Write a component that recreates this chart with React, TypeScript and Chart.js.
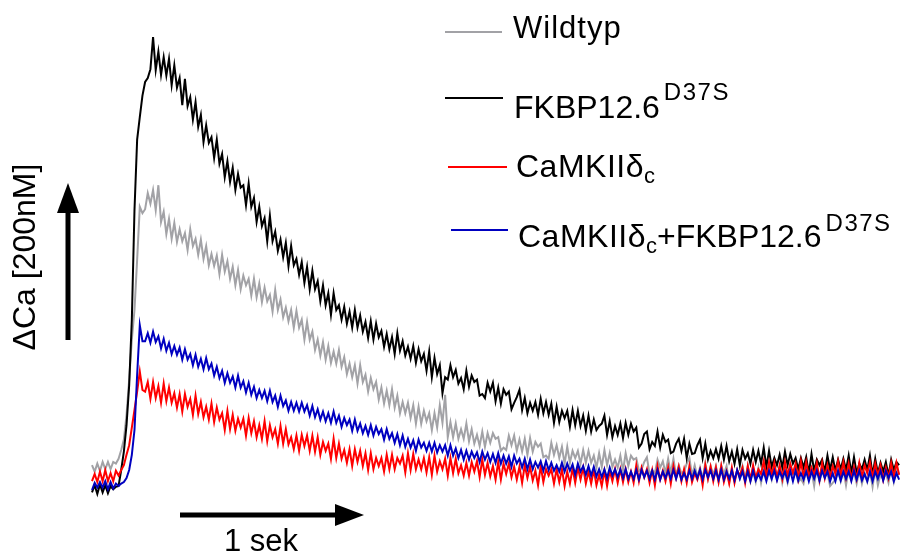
import { useEffect, useRef } from "react";
import { Chart, registerables } from "chart.js";

Chart.register(...registerables);

// Sampling interval of the recordings (seconds)
const TIME_STEP_S = 0.015;

// ΔCa traces in nM (relative to diastolic baseline), one value per sample
const WILDTYP = [
  31, 23, 33, 24, 35, 26, 35, 26, 35, 33, 39, 50, 63, 94, 138, 188, 225, 288, 354, 346,
  351, 371, 358, 375, 350, 381, 335, 348, 320, 339, 314, 334, 310, 326, 311, 321, 300, 326, 305, 314,
  294, 313, 289, 305, 281, 295, 280, 293, 270, 294, 273, 286, 264, 279, 256, 275, 251, 268, 256, 264,
  243, 264, 241, 258, 235, 253, 236, 244, 223, 250, 225, 238, 216, 228, 211, 225, 203, 224, 203, 213,
  188, 210, 188, 198, 175, 188, 168, 185, 163, 180, 159, 173, 158, 175, 154, 166, 145, 158, 141, 156,
  133, 156, 135, 144, 123, 140, 126, 135, 113, 128, 108, 124, 106, 126, 103, 118, 96, 110, 96, 109,
  90, 106, 83, 104, 83, 99, 86, 96, 75, 96, 78, 106, 84, 119, 66, 85, 66, 83, 64, 76,
  64, 83, 61, 76, 58, 69, 55, 73, 54, 71, 59, 71, 64, 66, 49, 53, 50, 68, 56, 68,
  49, 63, 48, 64, 44, 65, 48, 60, 54, 58, 41, 43, 39, 59, 44, 56, 40, 54, 33, 54,
  34, 49, 40, 49, 33, 50, 34, 49, 34, 43, 28, 46, 29, 50, 31, 46, 29, 38, 28, 43,
  24, 46, 30, 43, 38, 40, 24, 26, 35, 41, 20, 25, 21, 38, 28, 36, 21, 39, 21, 39,
  18, 31, 21, 23, 33, 40, 18, 31, 16, 28, 14, 34, 14, 30, 19, 30, 11, 31, 20, 30,
  10, 25, 11, 25, 15, 30, 14, 30, 11, 24, 10, 28, 9, 26, 16, 25, 13, 30, 14, 29,
  9, 24, 9, 24, 20, 25, 10, 14, 8, 26, 14, 24, 5, 30, 10, 25, 18, 21, 5, 9,
  13, 24, 11, 25, 6, 26, 14, 23, 8, 24, 8, 21, 10, 24, 4, 26, 6, 20, 13, 21,
  9, 28, 10, 25, 19,
];

const FKBP_D37S = [
  -3, 6, -5, 7, -3, 6, -4, 5, 1, 4, 5, 25, 48, 81, 131, 213, 350, 438, 466, 493,
  510, 515, 526, 566, 525, 548, 519, 541, 518, 539, 506, 531, 503, 515, 481, 514, 480, 491, 463, 485,
  454, 469, 435, 456, 434, 441, 415, 438, 408, 420, 391, 411, 385, 403, 375, 395, 378, 381, 356, 383,
  354, 365, 335, 354, 330, 340, 311, 343, 311, 323, 299, 313, 291, 309, 280, 305, 281, 289, 269, 285,
  259, 279, 251, 274, 251, 261, 236, 256, 231, 246, 219, 246, 225, 231, 213, 229, 208, 223, 203, 225,
  203, 218, 198, 210, 190, 211, 188, 208, 191, 199, 179, 195, 176, 191, 170, 196, 174, 186, 168, 179,
  164, 180, 159, 176, 161, 170, 149, 173, 141, 165, 145, 156, 121, 141, 138, 156, 141, 150, 133, 140,
  126, 149, 129, 143, 135, 138, 118, 120, 115, 134, 123, 134, 111, 128, 108, 126, 119, 123, 101, 109,
  116, 125, 100, 115, 96, 109, 99, 110, 94, 114, 96, 110, 94, 108, 84, 104, 85, 99, 90, 99,
  79, 100, 81, 99, 80, 93, 74, 93, 73, 88, 75, 80, 83, 93, 69, 86, 66, 80, 69, 83,
  65, 84, 69, 83, 73, 78, 53, 58, 70, 73, 51, 60, 55, 73, 53, 69, 60, 63, 46, 48,
  58, 64, 49, 64, 40, 58, 45, 46, 56, 63, 40, 58, 38, 49, 40, 51, 39, 55, 38, 55,
  36, 48, 33, 51, 31, 50, 39, 46, 33, 50, 35, 49, 33, 53, 29, 49, 29, 40, 31, 44,
  28, 48, 31, 45, 33, 40, 26, 40, 28, 41, 21, 45, 24, 38, 31, 38, 23, 43, 25, 41,
  24, 38, 26, 39, 25, 43, 21, 41, 21, 33, 26, 38, 25, 43, 19, 39, 21, 34, 23, 35,
  18, 38, 25, 35, 31,
];

const CAMKII = [
  11, 20, 10, 23, 11, 25, 11, 21, 11, 24, 18, 25, 31, 44, 56, 78, 100, 123, 148, 125,
  123, 135, 114, 135, 115, 130, 109, 133, 111, 128, 109, 121, 103, 120, 98, 120, 104, 114, 94, 118,
  95, 110, 91, 104, 88, 108, 85, 103, 88, 96, 75, 99, 76, 94, 74, 89, 78, 89, 68, 90,
  71, 86, 66, 81, 64, 86, 61, 81, 66, 76, 58, 80, 58, 76, 57, 66, 51, 68, 49, 69,
  55, 68, 49, 68, 48, 66, 44, 60, 49, 58, 39, 64, 40, 58, 39, 50, 34, 51, 30, 51,
  35, 49, 30, 46, 25, 46, 26, 40, 30, 40, 23, 44, 26, 44, 26, 40, 33, 43, 22, 46,
  25, 45, 26, 38, 26, 40, 22, 41, 19, 43, 23, 36, 26, 39, 18, 40, 21, 39, 21, 31,
  18, 34, 18, 35, 23, 36, 16, 38, 19, 34, 17, 30, 13, 35, 13, 33, 20, 33, 16, 29,
  13, 29, 9, 31, 15, 29, 12, 24, 6, 30, 10, 26, 18, 26, 8, 26, 10, 26, 5, 23,
  8, 27, 9, 28, 13, 28, 8, 23, 8, 25, 6, 19, 5, 24, 5, 24, 11, 26, 9, 26,
  10, 26, 10, 23, 9, 31, 11, 28, 16, 26, 9, 25, 6, 30, 13, 24, 11, 28, 8, 30,
  15, 29, 11, 26, 9, 30, 10, 21, 13, 25, 6, 31, 14, 29, 11, 28, 10, 30, 10, 23,
  8, 28, 9, 25, 18, 28, 9, 30, 13, 31, 15, 26, 20, 36, 16, 35, 18, 34, 15, 31,
  14, 35, 18, 33, 21, 33, 14, 36, 16, 35, 16, 28, 19, 34, 13, 34, 15, 31, 15, 30,
  20, 36, 18, 35, 16, 33, 14, 29, 14, 34, 16, 31, 21, 35, 15, 33, 18, 31, 13, 28,
  15, 34, 16, 34, 19,
];

const CAMKII_FKBP = [
  0, 9, 3, 10, 3, 11, 1, 10, 2, 8, 5, 8, 10, 15, 25, 44, 75, 144, 206, 186,
  186, 196, 184, 198, 185, 192, 177, 189, 174, 184, 170, 180, 169, 178, 163, 176, 163, 170, 156, 169,
  154, 164, 151, 165, 151, 158, 143, 154, 140, 149, 134, 146, 134, 142, 128, 143, 128, 136, 122, 134,
  119, 129, 115, 125, 115, 124, 111, 124, 110, 118, 104, 118, 105, 112, 99, 110, 99, 109, 98, 109,
  98, 106, 93, 105, 91, 101, 88, 98, 86, 96, 84, 98, 84, 93, 79, 90, 81, 88, 74, 88,
  74, 83, 71, 80, 69, 81, 68, 79, 70, 76, 63, 76, 64, 71, 59, 70, 56, 68, 54, 64,
  53, 62, 49, 63, 53, 59, 49, 59, 48, 59, 47, 56, 48, 56, 43, 56, 43, 52, 40, 50,
  38, 49, 38, 48, 40, 47, 35, 48, 38, 46, 35, 45, 34, 46, 33, 43, 33, 42, 29, 43,
  33, 39, 28, 39, 26, 38, 26, 35, 28, 36, 24, 36, 25, 34, 24, 31, 23, 34, 23, 33,
  24, 32, 19, 33, 23, 30, 19, 30, 18, 29, 17, 26, 16, 26, 15, 28, 18, 26, 16, 26,
  15, 26, 14, 23, 14, 25, 13, 25, 16, 24, 14, 24, 13, 25, 13, 23, 15, 24, 14, 25,
  14, 25, 13, 21, 13, 24, 14, 24, 15, 25, 13, 25, 16, 24, 14, 24, 13, 25, 13, 23,
  14, 24, 12, 25, 14, 23, 11, 23, 11, 24, 12, 20, 13, 23, 11, 24, 14, 24, 12, 23,
  15, 23, 11, 24, 11, 24, 12, 21, 13, 23, 11, 23, 14, 24, 12, 24, 15, 23, 11, 21,
  11, 24, 12, 23, 14, 23, 11, 24, 13, 24, 12, 20, 11, 23, 11, 23, 14, 24, 12, 24,
  15, 23, 11, 21, 13,
];

const SERIES_NAMES = ["Wildtyp", "FKBP12.6 D37S", "CaMKIIδc", "CaMKIIδc+FKBP12.6 D37S"];
const Y_LABEL = "ΔCa [200nM]";
const X_LABEL = "1 sek";

const COLORS = ["#a2a2a6", "#000000", "#ff0000", "#0000c0"];
const FONT = '"Liberation Sans", Arial, Helvetica, sans-serif';

type Part = { t: string; size: number; dy: number; sp?: number; gap?: number };

function drawRich(ctx: CanvasRenderingContext2D, x: number, y: number, parts: Part[]) {
  let cx = x;
  for (const p of parts) {
    ctx.font = `${p.size}px ${FONT}`;
    (ctx as any).letterSpacing = `${p.sp || 0}px`;
    cx += p.gap || 0;
    ctx.fillText(p.t, cx, y + p.dy);
    cx += ctx.measureText(p.t).width;
  }
  (ctx as any).letterSpacing = "0px";
}

function drawArrow(
  ctx: CanvasRenderingContext2D,
  x0: number, y0: number, x1: number, y1: number,
  head: number, half: number, lw: number
) {
  const dx = x1 - x0;
  const dy = y1 - y0;
  const len = Math.hypot(dx, dy);
  const ux = dx / len;
  const uy = dy / len;
  const bx = x1 - ux * head;
  const by = y1 - uy * head;
  ctx.save();
  ctx.strokeStyle = "#000";
  ctx.fillStyle = "#000";
  ctx.lineWidth = lw;
  ctx.lineCap = "butt";
  ctx.beginPath();
  ctx.moveTo(x0, y0);
  ctx.lineTo(bx + ux * 2, by + uy * 2);
  ctx.stroke();
  ctx.beginPath();
  ctx.moveTo(x1, y1);
  ctx.lineTo(bx - uy * half, by + ux * half);
  ctx.lineTo(bx + uy * half, by - ux * half);
  ctx.closePath();
  ctx.fill();
  ctx.restore();
}

const annotationPlugin = {
  id: "annotations",
  afterDraw(chart: any) {
    const ctx: CanvasRenderingContext2D = chart.ctx;
    ctx.save();
    ctx.textBaseline = "alphabetic";
    ctx.textAlign = "left";
    ctx.fillStyle = "#000";

    const legend = [
      { color: COLORS[0], ly: 32, lx0: 445, lx1: 502, tx: 513, by: 38,
        parts: [{ t: SERIES_NAMES[0], size: 31, dy: 0, sp: 1 }] },
      { color: COLORS[1], ly: 98, lx0: 445, lx1: 503, tx: 514, by: 118,
        parts: [
          { t: "FKBP12.6", size: 32, dy: 0 },
          { t: "D37S", size: 24, dy: -18, sp: 1.5, gap: 4 },
        ] },
      { color: COLORS[2], ly: 167, lx0: 448, lx1: 507, tx: 516, by: 177,
        parts: [{ t: "CaMKIIδ", size: 32, dy: 0, sp: 0.5 }, { t: "c", size: 22, dy: 6 }] },
      { color: COLORS[3], ly: 230, lx0: 451, lx1: 508, tx: 518, by: 247,
        parts: [
          { t: "CaMKIIδ", size: 32, dy: 0, sp: 0.5 },
          { t: "c", size: 22, dy: 6 },
          { t: "+FKBP12.6", size: 32, dy: 0 },
          { t: "D37S", size: 24, dy: -16, sp: 1.5, gap: 4 },
        ] },
    ];
    for (const e of legend) {
      ctx.strokeStyle = e.color;
      ctx.lineWidth = 2;
      ctx.beginPath();
      ctx.moveTo(e.lx0, e.ly);
      ctx.lineTo(e.lx1, e.ly);
      ctx.stroke();
      ctx.fillStyle = "#000";
      drawRich(ctx, e.tx, e.by, e.parts);
    }

    // Scale bars
    drawArrow(ctx, 68, 340, 68, 183, 30, 11, 5);
    drawArrow(ctx, 180, 515, 364, 515, 29, 11, 5);

    ctx.fillStyle = "#000";
    ctx.font = `31px ${FONT}`;
    ctx.fillText(X_LABEL, 224, 551);

    ctx.save();
    ctx.translate(35, 257);
    ctx.rotate(-Math.PI / 2);
    ctx.textAlign = "center";
    ctx.font = `32px ${FONT}`;
    ctx.fillText(Y_LABEL, 0, 0);
    ctx.restore();

    ctx.restore();
  },
};

function toPoints(values: number[]) {
  return values.map((v, i) => ({ x: i * TIME_STEP_S, y: v }));
}

export default function App() {
  const canvasRef = useRef<HTMLCanvasElement | null>(null);

  useEffect(() => {
    if (!canvasRef.current) return;
    const series = [WILDTYP, FKBP_D37S, CAMKII, CAMKII_FKBP];
    const drawOrder = [4, 3, 2, 1];
    const chart = new Chart(canvasRef.current, {
      type: "line",
      data: {
        datasets: series.map((vals, k) => ({
          label: SERIES_NAMES[k],
          data: toPoints(vals),
          borderColor: COLORS[k],
          backgroundColor: COLORS[k],
          borderWidth: 2,
          pointRadius: 0,
          tension: 0,
          fill: false,
          order: drawOrder[k],
        })),
      },
      options: {
        responsive: false,
        animation: false,
        devicePixelRatio: 1,
        layout: { padding: 0 },
        plugins: {
          legend: { display: false },
          tooltip: { enabled: false },
          title: { display: false },
        },
        scales: {
          x: { type: "linear", display: false, min: -0.5198, max: 4.5706 },
          y: { type: "linear", display: false, min: -78.75, max: 612.5 },
        },
      },
      plugins: [annotationPlugin],
    });
    return () => chart.destroy();
  }, []);

  return (
    <div style={{ position: "absolute", left: 0, top: 0, width: 901, height: 553, background: "#fff" }}>
      <canvas ref={canvasRef} width={901} height={553} style={{ display: "block" }} />
    </div>
  );
}
